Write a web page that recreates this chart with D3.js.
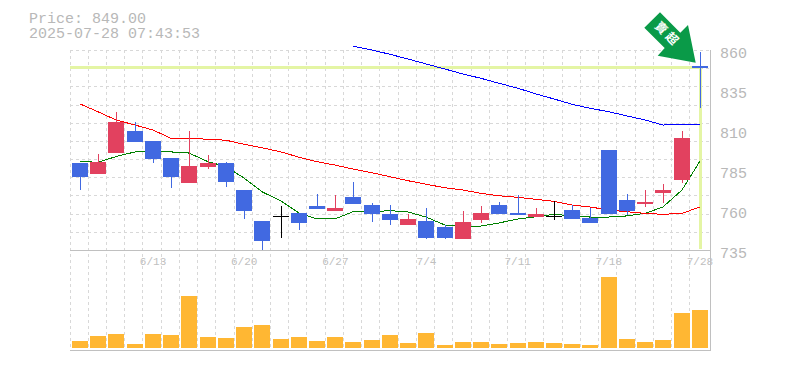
<!DOCTYPE html>
<html>
<head>
<meta charset="utf-8">
<script src="https://cdn.jsdelivr.net/npm/d3@7"></script>
<style>
  html, body { margin: 0; padding: 0; background: #fff; }
  svg { display: block; }
  text { font-family: "Liberation Mono", monospace; fill: #b8b8b8; }
</style>
</head>
<body>
<div id="chart"></div>
<script>
const dates = ["6/9","6/10","6/11","6/12","6/13","6/16","6/17","6/18","6/19","6/20","6/23","6/24","6/25","6/26","6/27","6/30","7/1","7/2","7/3","7/4","7/7","7/8","7/9","7/10","7/11","7/14","7/15","7/16","7/17","7/18","7/22","7/23","7/24","7/25","7/28"];
const opens = [789.4,782.5,795.6,809.4,803.1,792.5,776.9,786.9,789.4,772.5,753.1,756.3,758.1,762.5,759.4,768.1,763.1,757.5,750.6,753.1,749.4,741.9,753.8,763.1,758.1,755.6,756.3,760,755,797.5,766.3,763.8,770.6,778.8,850];
const highs = [789.4,795,821.3,815,803.1,792.5,809.4,794.4,790,772.5,753.1,762.5,758.1,770,769.4,777.5,764.4,763.1,757.5,761.3,750.6,759.4,762.5,765,769.4,761.3,765.6,763.1,761.3,797.5,770,772.5,776.3,809.4,859];
const lows = [772.5,782.5,795.6,802.5,789.4,773.8,776.9,785.6,774.4,754.4,735,742.5,747.5,760.6,759.4,763.8,752.5,750.6,750.6,741.9,741.9,741.9,751.9,757.5,756.9,755.6,753.8,754.4,751.9,757.5,756.9,761.9,764.4,776.9,823.8];
const closes = [780.6,790,815,802.5,791.9,780.6,787.5,789.4,777.5,759.4,740.6,756.3,751.9,760.6,761.3,763.8,757.5,753.8,754.4,742.5,742.5,752.5,758.1,757.5,756.9,757.5,756.3,754.4,751.9,757.5,759.4,765,772.5,805,849];
const volumes = [7,12,14,4,14,13,52,11,10,21,23,9,11,7,11,6,8,13,5,15,3,6,6,4,5,6,5,4,3,71,9,6,8,35,38];
const maShort = [790.4,789.8,793.4,796.3,796.3,796.3,795.6,790.2,787.1,780,771.4,765.6,758.1,754.4,754.4,758.9,758.9,759.6,758.8,755.6,750.6,749.6,750,751.9,754.4,755.8,757.3,756.3,755.6,755.6,756.3,757.9,761.9,772.5,790.6];
const maMid = [826.3,821.4,816.3,813.1,810,804.8,804.8,804.2,803.6,801.1,798.9,796.3,793,790.2,788.1,785.6,783.3,780.8,778.3,776.1,773.9,772.5,770.4,768.9,767.9,766.7,765.4,763.1,761.9,760,758.9,757.9,757.3,757.9,761.9];
const maLong = [null,null,null,null,null,null,null,null,null,null,null,null,null,null,null,862.3,860,857.3,854.4,851.3,848.1,845,842.3,839.2,836.1,832.5,829.4,826.1,823.6,821.4,818.8,816.3,813.1,813.6,813.6];
const yTicks = [860,835,810,785,760,735];
const xTicks = ["6/13","6/20","6/27","7/4","7/11","7/18","7/28"];
const lastPrice = 849;
const titleLines = ["Price: 849.00","2025-07-28 07:43:53"];
const arrowLabel = "賣超";

class StockChart {
  constructor(parentElement) {
    this.parentElement = parentElement;
    this.initVis();
  }

  initVis() {
    this.dimensions = { width: 785, height: 370, left: 70, right: 710, top: 50, priceBottom: 250, volTop: 277, bottom: 350 };
    this.createSvg();
    this.setScales();
    this.drawGrid();
    this.drawAxes();
    this.drawPriceLines();
    this.drawMovingAverages();
    this.drawCandles();
    this.drawVolume();
    this.drawFrame();
    this.drawArrow();
    this.drawTitle();
  }

  createSvg() {
    this.svg = d3
      .select(this.parentElement)
      .append("svg")
      .attr("width", this.dimensions.width)
      .attr("height", this.dimensions.height);
  }

  setScales() {
    const d = this.dimensions;
    this.xScale = d3.scaleBand().domain(dates).range([d.left, d.left + 18.23 * dates.length]);
    this.yScale = d3.scaleLinear().domain([735, 860]).range([d.priceBottom, d.top]);
    this.volScale = d3.scaleLinear().domain([0, d3.max(volumes)]).range([d.bottom - 2, d.volTop]);
    // bars sit 2px inside their slot, snapped to whole pixels
    this.barLeft = (date) => Math.round(this.xScale(date) + 2);
    this.center = (date) => this.barLeft(date) + 8;
  }

  drawGrid() {
    const d = this.dimensions;
    const grid = this.svg
      .append("g")
      .attr("stroke", "#d8d8d8")
      .attr("stroke-dasharray", "3,3")
      .attr("shape-rendering", "crispEdges");

    grid
      .selectAll("line.v")
      .data(dates)
      .join("line")
      .attr("class", "v")
      .attr("x1", (t) => Math.floor(this.xScale(t)) + 0.5)
      .attr("x2", (t) => Math.floor(this.xScale(t)) + 0.5)
      .attr("y1", d.top)
      .attr("y2", d.bottom);

    grid
      .selectAll("line.h")
      .data(d3.range(11))
      .join("line")
      .attr("class", "h")
      .attr("x1", d.left)
      .attr("x2", d.right)
      .attr("y1", (i) => Math.round(d.top + (i * (d.priceBottom - d.top)) / 11) + 0.5)
      .attr("y2", (i) => Math.round(d.top + (i * (d.priceBottom - d.top)) / 11) + 0.5);
  }

  drawAxes() {
    const d = this.dimensions;
    const yAxis = d3.axisRight(this.yScale).tickValues(yTicks).tickSize(0).tickPadding(0);
    const yGroup = this.svg.append("g").attr("transform", `translate(${d.right + 10}, 0)`).call(yAxis);
    yGroup.select(".domain").remove();
    yGroup
      .selectAll("text")
      .attr("font-size", 15)
      .attr("dy", 7)
      .attr("x", 0)
      .style("font-family", '"Liberation Mono", monospace')
      .style("fill", "#b8b8b8");

    const xAxis = d3.axisBottom(this.xScale).tickValues(xTicks).tickSize(0).tickPadding(0);
    const xGroup = this.svg.append("g").attr("transform", `translate(1, ${d.priceBottom})`).call(xAxis);
    xGroup.select(".domain").remove();
    xGroup
      .selectAll("text")
      .attr("font-size", 11)
      .attr("y", 15)
      .attr("dy", 0)
      .style("font-family", '"Liberation Mono", monospace')
      .style("fill", "#c0c0c0");
  }

  drawPriceLines() {
    const d = this.dimensions;
    const last = dates[dates.length - 1];
    const g = this.svg.append("g").attr("stroke", "#e4f5a4").attr("stroke-width", 3).attr("shape-rendering", "crispEdges");
    g.append("line")
      .attr("x1", d.left)
      .attr("x2", this.center(last) + 2)
      .attr("y1", this.yScale(lastPrice))
      .attr("y2", this.yScale(lastPrice));
    g.append("line")
      .attr("x1", this.center(last) + 0.5)
      .attr("x2", this.center(last) + 0.5)
      .attr("y1", this.yScale(lastPrice))
      .attr("y2", d.priceBottom - 1);
  }

  drawMovingAverages() {
    const line = d3
      .line()
      .defined((p) => p.v !== null)
      .x((p) => this.center(p.date))
      .y((p) => this.yScale(p.v));

    [
      [maShort, "#008000"],
      [maMid, "#ff0000"],
      [maLong, "#0000ff"],
    ].forEach(([values, color]) => {
      this.svg
        .append("path")
        .datum(values.map((v, i) => ({ date: dates[i], v })))
        .attr("fill", "none")
        .attr("stroke", color)
        .attr("stroke-width", 1)
        .attr("shape-rendering", "crispEdges")
        .attr("d", line);
    });
  }

  drawCandles() {
    const candles = dates.map((date, i) => ({ date, o: opens[i], h: highs[i], l: lows[i], c: closes[i] }));
    const color = (k) => (k.o === k.c ? "#000000" : k.c > k.o ? "#e2415f" : "#4169e1");
    const g = this.svg.append("g").attr("shape-rendering", "crispEdges");

    g.selectAll("line")
      .data(candles)
      .join("line")
      .attr("x1", (k) => this.center(k.date) + 0.5)
      .attr("x2", (k) => this.center(k.date) + 0.5)
      .attr("y1", (k) => this.yScale(k.h))
      .attr("y2", (k) => this.yScale(k.l))
      .attr("stroke", color);

    g.selectAll("rect")
      .data(candles)
      .join("rect")
      .attr("x", (k) => this.barLeft(k.date))
      .attr("width", 16)
      .attr("y", (k) => Math.round(this.yScale(Math.max(k.o, k.c))))
      .attr("height", (k) => Math.max(1, Math.round(this.yScale(Math.min(k.o, k.c))) - Math.round(this.yScale(Math.max(k.o, k.c)))))
      .attr("fill", color);
  }

  drawVolume() {
    const base = this.volScale(0);
    this.svg
      .append("g")
      .attr("shape-rendering", "crispEdges")
      .selectAll("rect")
      .data(volumes)
      .join("rect")
      .attr("x", (v, i) => this.barLeft(dates[i]))
      .attr("width", 16)
      .attr("y", (v) => this.volScale(v))
      .attr("height", (v) => base - this.volScale(v))
      .attr("fill", "#ffb733");
  }

  drawFrame() {
    const d = this.dimensions;
    const g = this.svg.append("g").attr("stroke", "#c0c0c0").attr("shape-rendering", "crispEdges");
    g.append("line").attr("x1", d.left).attr("x2", d.right).attr("y1", d.priceBottom + 0.5).attr("y2", d.priceBottom + 0.5);
    g.append("line").attr("x1", d.left).attr("x2", d.right + 1).attr("y1", d.bottom + 0.5).attr("y2", d.bottom + 0.5);
    g.append("line").attr("x1", d.right + 0.5).attr("x2", d.right + 0.5).attr("y1", d.top).attr("y2", d.bottom);
  }

  drawArrow() {
    const outline = [[660,12.3],[680.3,32.7],[688,25],[695.7,62.7],[657.7,55.7],[664.7,48],[644.3,27.7]];
    this.svg.append("polygon").attr("points", outline.join(" ")).attr("fill", "#0a9a48");
    this.svg
      .append("text")
      .attr("transform", "translate(667.5,34.5) rotate(45)")
      .attr("text-anchor", "middle")
      .attr("dy", 4)
      .attr("font-size", 12)
      .attr("font-weight", "bold")
      .style("font-family", '"Noto Sans CJK TC"')
      .style("fill", "#ffffff")
      .style("letter-spacing", "3px")
      .text(arrowLabel);
  }

  drawTitle() {
    this.svg
      .selectAll("text.title")
      .data(titleLines)
      .join("text")
      .attr("class", "title")
      .attr("x", 29)
      .attr("y", (t, i) => 23 + i * 15)
      .attr("font-size", 15)
      .text((t) => t);
  }
}

new StockChart("#chart");
</script>
</body>
</html>
